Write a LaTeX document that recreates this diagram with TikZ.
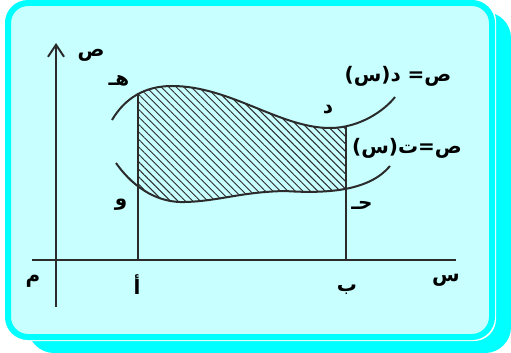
\documentclass[tikz,border=0pt]{standalone}
\usepackage{fontspec}
\usepackage{tikz}
\usetikzlibrary{arrows.meta,patterns.meta}
\newfontfamily\arabicfont[Script=Arabic]{DejaVu Sans}
\TeXXeTstate=1
\definecolor{Aqua}{HTML}{00FFFF}
\definecolor{Pale}{HTML}{C8FFFF}
\definecolor{Ink}{HTML}{2B2B2B}

\begin{document}
\begin{tikzpicture}[x=1pt,y=-1pt,
    lbl/.style={inner sep=0pt,font=\arabicfont\bfseries\fontsize{20}{22}\selectfont,text=black},
    curve/.style={Ink,line width=2pt},
    axis/.style={Ink,line width=2pt},
    hatch/.style={pattern={Lines[angle=-45,distance=5.3pt,line width=1pt]},pattern color=Ink}
  ]
    \useasboundingbox (0,0) rectangle (511,353);
    % frame with its shadow
    \fill[Aqua,rounded corners=26pt] (28,12) rectangle (511,353);
    \fill[white,rounded corners=22pt] (4,-1) rectangle (496,341);
    \draw[Aqua,fill=Pale,line width=6pt,rounded corners=20pt] (8,3) rectangle (492,337);

    % points
    \coordinate (O) at (56,260);
    \coordinate (ytop) at (56,43);
    \coordinate (ybot) at (56,307);
    \coordinate (xleft) at (32,260);
    \coordinate (xright) at (456,260);
    \coordinate (A) at (138,260);
    \coordinate (B) at (346,260);
    \coordinate (H) at (138,93);
    \coordinate (D) at (346,126);
    \coordinate (J) at (346,189);
    \coordinate (W) at (138,188);

    % shaded region
    \begin{scope}
      \clip (H |- 0,60) rectangle (J |- O);
      \fill[hatch] (112,120) .. controls (125,98) and (145,86) .. (172,86)
        .. controls (230,86) and (280,128) .. (330,128)
        .. controls (360,128) and (385,110) .. (395,97)
        -- (390,166) .. controls (370,190) and (330,194) .. (285,191)
        .. controls (240,192) and (220,201) .. (185,202)
        .. controls (160,203) and (135,190) .. (116,163) -- cycle;
    \end{scope}

    % axes
    \draw[axis] (xleft) -- (xright);
    \draw[axis,-{Straight Barb[length=12pt,width=16pt]}] (ybot) -- (ytop);
    \draw[axis] (A) -- (H);
    \draw[axis] (B) -- (D);

    % curves
    \draw[curve] (112,120) .. controls (125,98) and (145,86) .. (172,86)
      .. controls (230,86) and (280,128) .. (330,128)
      .. controls (360,128) and (385,110) .. (395,97);
    \draw[curve] (116,163) .. controls (135,190) and (160,203) .. (185,202)
      .. controls (220,201) and (240,192) .. (285,191)
      .. controls (330,194) and (370,190) .. (390,166);

    % labels
    \node[lbl] (ylbl) at (91,55) {\beginR ص\endR};
    \node[lbl] (hlbl) at (119,81) {\beginR هـ\endR};
    \node[lbl] (dlbl) at (328,110) {\beginR د\endR};
    \node[lbl] (flbl) at (398,76) {\beginR ص= د(س)\endR};
    \node[lbl] (glbl) at (407,148) {\beginR ص=ت(س)\endR};
    \node[lbl] (wlbl) at (121,205) {\beginR و\endR};
    \node[lbl] (jlbl) at (362,205) {\beginR حـ\endR};
    \node[lbl] (olbl) at (33,281) {\beginR م\endR};
    \node[lbl] (albl) at (137,285) {\beginR أ\endR};
    \node[lbl] (blbl) at (347,290) {\beginR ب\endR};
    \node[lbl] (xlbl) at (446,280) {\beginR س\endR};
  \end{tikzpicture}
\end{document}
